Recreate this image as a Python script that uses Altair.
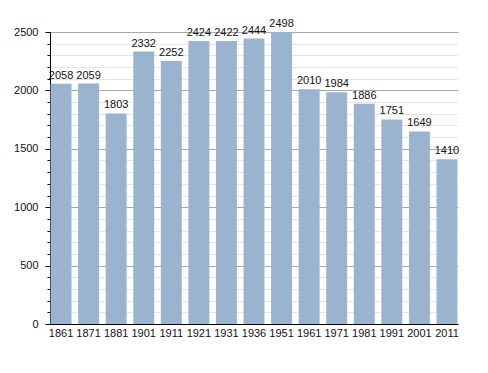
import altair as alt
import pandas as pd

years = ["1861", "1871", "1881", "1901", "1911", "1921", "1931", "1936",
         "1951", "1961", "1971", "1981", "1991", "2001", "2011"]
population = [2058, 2059, 1803, 2332, 2252, 2424, 2422, 2444,
              2498, 2010, 1984, 1886, 1751, 1649, 1410]
y_ticks = list(range(0, 2501, 100))

df = pd.DataFrame({"year": years, "pop": population})

FONT = "Liberation Sans"
major = "datum.value % 500 === 0"

x = alt.X(
    "year:N", sort=None, title=None,
    scale=alt.Scale(paddingInner=0.24, paddingOuter=0.02),
    axis=alt.Axis(labelAngle=0, ticks=False, domainColor="#000000", domainWidth=1,
                  labelFont=FONT, labelFontSize=11, labelColor="#111111",
                  labelPadding=3, grid=False),
)
y = alt.Y(
    "pop:Q", title=None,
    scale=alt.Scale(domain=[0, 2500], nice=False),
    axis=alt.Axis(
        values=y_ticks, format="d", tickCount=26,
        labelExpr=f"{major} ? datum.label : ''",
        labelOverlap=False,
        labelFont=FONT, labelFontSize=11, labelColor="#111111", labelPadding=7,
        domainColor="#000000", tickColor="#000000",
        tickSize={"condition": {"test": major, "value": 5}, "value": 3},
        grid=True,
        gridColor={"condition": {"test": major, "value": "#a6a6a6"}, "value": "#e4e4e4"},
        gridWidth=1,
    ),
)

bars = alt.Chart(df).mark_bar(color="#9ab3cf").encode(x=x, y=y)
labels = alt.Chart(df).mark_text(
    baseline="bottom", dy=-3, font=FONT, fontSize=11, color="#111111"
).encode(x=x, y=y, text=alt.Text("pop:Q", format="d"))

chart = alt.layer(bars, labels).properties(
    width=408, height=292,
    autosize=alt.AutoSizeParams(type="none"),
    padding={"left": 42, "top": 24, "right": 18, "bottom": 38},
).configure_view(stroke=None)

chart.save("out.html", embed_options={"renderer": "svg", "actions": False})
